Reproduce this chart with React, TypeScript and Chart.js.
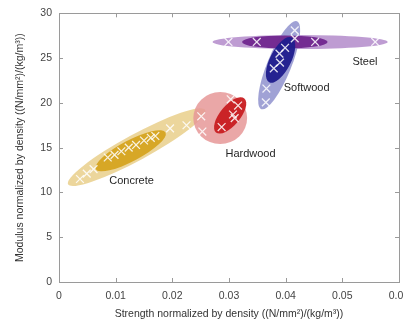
import React, { useEffect, useRef } from "react";
import { Chart, registerables } from "chart.js";

Chart.register(...registerables);

// ---- data ----
const xTickValues = [0, 0.01, 0.02, 0.03, 0.04, 0.05, 0.06];
const yTickValues = [0, 5, 10, 15, 20, 25, 30];

const materials = ["Concrete", "Hardwood", "Softwood", "Steel"];

const concreteX = [0.0037, 0.0049, 0.0061, 0.0086, 0.0098, 0.011, 0.0123, 0.0136, 0.015, 0.0162, 0.017, 0.0196, 0.0225, 0.0251, 0.0253];
const concreteY = [11.5, 12.1, 12.6, 13.9, 14.2, 14.6, 15.0, 15.3, 15.8, 16.1, 16.3, 17.15, 17.5, 18.5, 16.8];

const hardwoodX = [0.0287, 0.0303, 0.0316, 0.0307, 0.031];
const hardwoodY = [17.3, 20.4, 19.7, 18.7, 18.3];

const softwoodX = [0.0365, 0.0366, 0.0379, 0.039, 0.0389, 0.0399, 0.0416, 0.0416];
const softwoodY = [20.05, 21.6, 23.85, 24.5, 25.5, 26.15, 27.2, 28.1];

const steelX = [0.0299, 0.0349, 0.0452, 0.0558];
const steelY = [26.8, 26.8, 26.8, 26.8];

// ellipse major-axis endpoints (data units): [x1, y1, x2, y2]
const concreteOuter = [0.0016, 10.9, 0.0258, 19.2];
const concreteInner = [0.0065, 12.6, 0.0188, 16.7];
const hardwoodOuter = [0.0237, 18.3, 0.0332, 18.3];
const hardwoodInner = [0.0277, 16.7, 0.0327, 20.5];
const steelOuter = [0.0271, 26.8, 0.058, 26.8];
const steelInner = [0.0323, 26.8, 0.0474, 26.8];
const softwoodOuter = [0.0357, 19.3, 0.042, 29.1];
const softwoodInner = [0.0371, 22.3, 0.0411, 27.3];

// label anchor positions (data units)
const labelX = [0.0128, 0.0338, 0.0437, 0.054];
const labelY = [11.3, 14.3, 21.7, 24.6];

// ---- styles ----
const ellipses = [
  { axis: concreteOuter, minor: 13, color: "rgba(234,210,148,0.92)" },
  { axis: concreteInner, minor: 10.5, color: "rgba(214,164,32,0.95)" },
  { axis: hardwoodOuter, minor: 26, color: "rgba(230,152,152,0.85)" },
  { axis: hardwoodInner, minor: 10, color: "rgba(200,28,32,0.95)" },
  { axis: steelOuter, minor: 7, color: "rgba(184,148,206,0.92)" },
  { axis: softwoodOuter, minor: 12, color: "rgba(150,152,208,0.9)" },
  { axis: steelInner, minor: 6.5, color: "rgba(112,38,142,0.95)" },
  { axis: softwoodInner, minor: 10.5, color: "rgba(32,30,142,0.96)" },
];

const FONT = "'Liberation Sans', Arial, sans-serif";

const ellipsePlugin = {
  id: "ellipses",
  beforeDatasetsDraw(chart: any) {
    const { ctx, chartArea, scales } = chart;
    const xs = scales.x;
    const ys = scales.y;
    ctx.save();
    ctx.beginPath();
    ctx.rect(chartArea.left, chartArea.top, chartArea.right - chartArea.left, chartArea.bottom - chartArea.top);
    ctx.clip();
    ellipses.forEach((e) => {
      const [x1, y1, x2, y2] = e.axis;
      const px1 = xs.getPixelForValue(x1);
      const py1 = ys.getPixelForValue(y1);
      const px2 = xs.getPixelForValue(x2);
      const py2 = ys.getPixelForValue(y2);
      const cx = (px1 + px2) / 2;
      const cy = (py1 + py2) / 2;
      const rx = Math.hypot(px2 - px1, py2 - py1) / 2;
      const ang = Math.atan2(py2 - py1, px2 - px1);
      ctx.beginPath();
      ctx.ellipse(cx, cy, rx, e.minor, ang, 0, Math.PI * 2);
      ctx.fillStyle = e.color;
      ctx.fill();
    });
    ctx.restore();
  },
  afterDatasetsDraw(chart: any) {
    const { ctx, scales } = chart;
    ctx.save();
    ctx.font = `11px ${FONT}`;
    ctx.fillStyle = "#262626";
    ctx.textAlign = "center";
    ctx.textBaseline = "middle";
    materials.forEach((m, i) => {
      ctx.fillText(m, scales.x.getPixelForValue(labelX[i]), scales.y.getPixelForValue(labelY[i]));
    });
    ctx.restore();
  },
  afterDraw(chart: any) {
    const { ctx, chartArea, scales } = chart;
    const { left, right, top, bottom } = chartArea;
    ctx.save();
    ctx.strokeStyle = "#9a9a9a";
    ctx.lineWidth = 1;
    ctx.strokeRect(Math.round(left) + 0.5, Math.round(top) + 0.5, Math.round(right - left), Math.round(bottom - top));
    const tl = 4;
    ctx.beginPath();
    xTickValues.forEach((v) => {
      const px = Math.round(scales.x.getPixelForValue(v)) + 0.5;
      ctx.moveTo(px, bottom);
      ctx.lineTo(px, bottom - tl);
      ctx.moveTo(px, top);
      ctx.lineTo(px, top + tl);
    });
    yTickValues.forEach((v) => {
      const py = Math.round(scales.y.getPixelForValue(v)) + 0.5;
      ctx.moveTo(left, py);
      ctx.lineTo(left + tl, py);
      ctx.moveTo(right, py);
      ctx.lineTo(right - tl, py);
    });
    ctx.stroke();
    ctx.restore();
  },
};

function pts(xs: number[], ys: number[]) {
  return xs.map((x, i) => ({ x, y: ys[i] }));
}

export default function App() {
  const ref = useRef<HTMLCanvasElement | null>(null);

  useEffect(() => {
    if (!ref.current) return;
    const seriesX = [concreteX, hardwoodX, softwoodX, steelX];
    const seriesY = [concreteY, hardwoodY, softwoodY, steelY];
    const chart = new Chart(ref.current, {
      type: "scatter",
      data: {
        datasets: materials.map((m, i) => ({
          label: m,
          data: pts(seriesX[i], seriesY[i]),
          pointStyle: "crossRot",
          pointRadius: 5.5,
          borderWidth: 1.3,
          borderColor: "rgba(255,255,255,0.85)",
          backgroundColor: "rgba(255,255,255,0.85)",
          showLine: false,
        })),
      },
      options: {
        responsive: false,
        animation: false,
        layout: { padding: { left: 0, top: 13, right: 21, bottom: 0 } },
        plugins: {
          legend: { display: false },
          tooltip: { enabled: false },
        },
        scales: {
          x: {
            type: "linear",
            min: 0,
            max: 0.06,
            grid: { display: false, drawTicks: false },
            border: { display: false },
            ticks: {
              stepSize: 0.01,
              padding: 8,
              color: "#444",
              font: { family: FONT, size: 10.5 },
              maxRotation: 0,
            },
            title: {
              display: true,
              text: "Strength normalized by density ((N/mm²)/(kg/m³))",
              color: "#333",
              font: { family: FONT, size: 10.5 },
              padding: { top: 0, bottom: 2 },
            },
            afterFit: (s: any) => {
              s.height = 40;
            },
          },
          y: {
            type: "linear",
            min: 0,
            max: 30,
            grid: { display: false, drawTicks: false },
            border: { display: false },
            ticks: {
              stepSize: 5,
              padding: 7,
              color: "#444",
              font: { family: FONT, size: 10.5 },
            },
            title: {
              display: true,
              text: "Modulus normalized by density ((N/mm²)/(kg/m³))",
              color: "#333",
              font: { family: FONT, size: 10.5 },
              padding: { top: 14, bottom: 0 },
            },
            afterFit: (s: any) => {
              s.width = 59;
            },
          },
        },
      },
      plugins: [ellipsePlugin],
    });
    return () => chart.destroy();
  }, []);

  return (
    <div
      style={{
        position: "fixed",
        left: 0,
        top: 0,
        width: 404,
        height: 322,
        overflow: "hidden",
        background: "#fff",
      }}
    >
      <canvas ref={ref} width={420} height={322} style={{ width: 420, height: 322, display: "block" }} />
    </div>
  );
}
